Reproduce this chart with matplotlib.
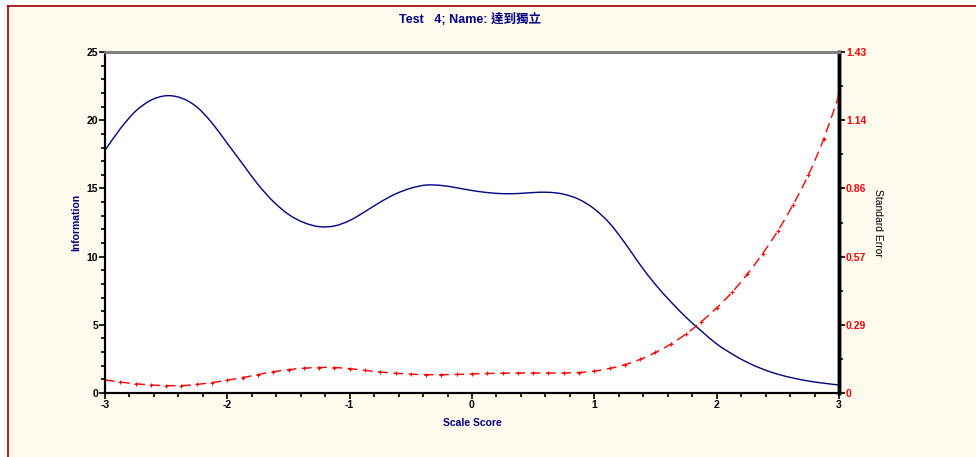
import matplotlib.pyplot as plt
from matplotlib.ticker import MultipleLocator, FixedLocator
from matplotlib.lines import Line2D
from matplotlib.path import Path
from matplotlib.patches import PathPatch
import numpy as np

plt.rcParams['font.family'] = ['Liberation Sans', 'Noto Sans CJK TC', 'DejaVu Sans']
plt.rcParams['axes.unicode_minus'] = False

# scale score grid
theta = np.arange(49) * 0.125 - 3.0

# test information
info = [17.8, 19.38, 20.67, 21.47, 21.8, 21.63, 20.98, 19.8, 18.3, 16.8,
        15.3, 14.05, 13.1, 12.5, 12.2, 12.25, 12.65, 13.3, 14.0, 14.6,
        15.02, 15.25, 15.22, 15.05, 14.85, 14.7, 14.62, 14.63, 14.7, 14.72,
        14.58, 14.2, 13.5, 12.45, 11.0, 9.4, 7.95, 6.7, 5.55, 4.55,
        3.6, 2.87, 2.25, 1.76, 1.38, 1.1, 0.88, 0.72, 0.59]

# standard error
se = [0.055, 0.046, 0.039, 0.034, 0.031, 0.031, 0.036, 0.044, 0.054, 0.065,
      0.077, 0.089, 0.098, 0.104, 0.107, 0.107, 0.102, 0.095, 0.088, 0.083,
      0.079, 0.077, 0.077, 0.078, 0.080, 0.082, 0.083, 0.084, 0.084, 0.084,
      0.084, 0.086, 0.092, 0.103, 0.119, 0.141, 0.170, 0.205, 0.248, 0.299,
      0.357, 0.422, 0.498, 0.584, 0.680, 0.790, 0.915, 1.065, 1.250]

x_ticks = [-3, -2, -1, 0, 1, 2, 3]
se_ticks = [0, 0.286, 0.572, 0.858, 1.144, 1.43]
se_labels = ['0', '0.29', '0.57', '0.86', '1.14', '1.43']

navy = '#000080'
bg = '#fff9ee'


def smooth_path(x, y):
    # Catmull-Rom through the points, as cubic bezier segments
    x = np.asarray(x, float)
    y = np.asarray(y, float)
    n = len(x)
    verts = [(x[0], y[0])]
    codes = [Path.MOVETO]
    for i in range(n - 1):
        i0 = max(i - 1, 0)
        i3 = min(i + 2, n - 1)
        c1 = (x[i] + (x[i + 1] - x[i0]) / 6, y[i] + (y[i + 1] - y[i0]) / 6)
        c2 = (x[i + 1] - (x[i3] - x[i]) / 6, y[i + 1] - (y[i3] - y[i]) / 6)
        verts += [c1, c2, (x[i + 1], y[i + 1])]
        codes += [Path.CURVE4] * 3
    return Path(verts, codes)


fig = plt.figure(figsize=(9.76, 4.57), dpi=100, facecolor='white')
# cream panel with dark red frame on left and top
fig.patches.append(plt.Rectangle((0.0075, -0.01), 1.0, 1.0 - 0.0075 * 976 / 457 + 0.01,
                                 transform=fig.transFigure, facecolor=bg,
                                 edgecolor='none', zorder=-2))
fig.add_artist(Line2D([0.0077, 0.0077], [0, 0.986], color='#990000', lw=1.2,
                      transform=fig.transFigure))
fig.add_artist(Line2D([0.0077, 1], [0.986, 0.986], color='#990000', lw=1.2,
                      transform=fig.transFigure))

ax = fig.add_axes([0.1076, 0.140, 0.752, 0.746])
ax.set_facecolor('white')
ax.add_patch(PathPatch(smooth_path(theta, info), facecolor='none',
                       edgecolor=navy, lw=1.0))
ax.set_xlim(-3, 3)
ax.set_ylim(0, 25)

ax2 = ax.twinx()
ax2.add_patch(PathPatch(smooth_path(theta, se), facecolor='none', edgecolor='red',
                        lw=1.0, ls=(0, (7, 4))))
ax2.plot(theta, se, ls='none', color='red', marker='+', ms=3, mew=0.8)
ax2.set_ylim(0, 1.43)

ax.xaxis.set_major_locator(FixedLocator(x_ticks))
ax.xaxis.set_minor_locator(MultipleLocator(0.2))
ax.yaxis.set_major_locator(MultipleLocator(5))
ax.yaxis.set_minor_locator(MultipleLocator(1))
ax2.yaxis.set_major_locator(FixedLocator(se_ticks))
ax2.yaxis.set_minor_locator(FixedLocator([0.143, 0.429, 0.715, 1.001, 1.287]))
ax2.set_yticklabels(se_labels)

ax.tick_params(axis='both', which='major', length=4, width=1.2, direction='out',
               labelsize=7.5, pad=1)
ax.tick_params(axis='both', which='minor', length=3, width=1.2, direction='out')
ax2.tick_params(axis='y', which='major', length=4, width=1.2, direction='out',
                labelsize=7.5, labelcolor='red', pad=1)
ax2.tick_params(axis='y', which='minor', length=3, width=1.2, direction='out')
for lab in ax.get_xticklabels() + ax.get_yticklabels() + ax2.get_yticklabels():
    lab.set_fontweight('bold')

for a in (ax, ax2):
    a.spines['top'].set_color('#808080')
    a.spines['top'].set_linewidth(2)
    a.spines['left'].set_linewidth(1.5)
    a.spines['bottom'].set_linewidth(1.5)
    a.spines['right'].set_linewidth(2.5)

ax.set_xlabel('Scale Score', color=navy, fontsize=7.5, fontweight='bold', labelpad=6)
ax.set_ylabel('Information', color=navy, fontsize=7.5, fontweight='bold', labelpad=4)
ax2.set_ylabel('Standard Error', color='black', fontsize=7.5, rotation=270,
               labelpad=12)

fig.text(0.482, 0.958, 'Test   4; Name: 達到獨立', color=navy, fontsize=9,
         fontweight='bold', ha='center', va='center')

plt.savefig('out.png', dpi=100, facecolor=fig.get_facecolor())
plt.close()
